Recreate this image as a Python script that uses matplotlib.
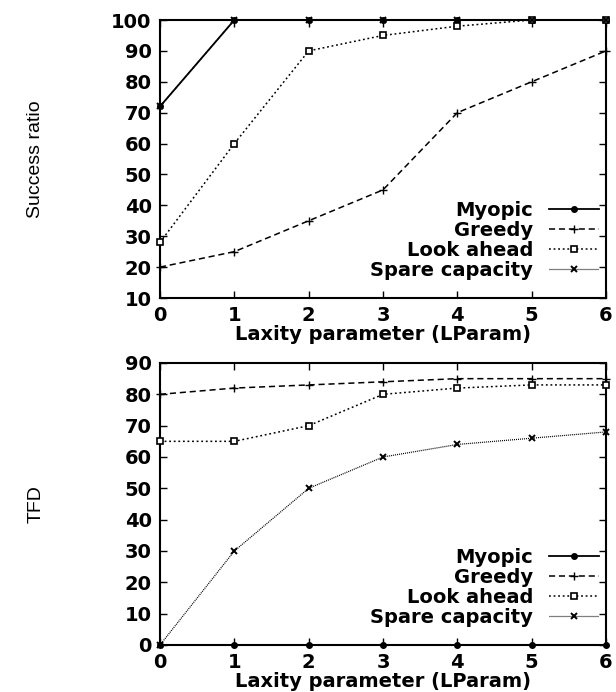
import matplotlib
matplotlib.use("Agg")
import matplotlib.pyplot as plt
from matplotlib import font_manager

x = [0, 1, 2, 3, 4, 5, 6]
series_names = ["Myopic", "Greedy", "Look ahead", "Spare capacity"]

# Top chart: Success ratio
sr_myopic = [72, 100, 100, 100, 100, 100, 100]
sr_greedy = [20, 25, 35, 45, 70, 80, 90]
sr_lookahead = [28, 60, 90, 95, 98, 100, 100]
sr_spare = [72, 100, 100, 100, 100, 100, 100]

# Bottom chart: TFD
tfd_myopic = [0, 0, 0, 0, 0, 0, 0]
tfd_greedy = [80, 82, 83, 84, 85, 85, 85]
tfd_lookahead = [65, 65, 70, 80, 82, 83, 83]
tfd_spare = [0, 30, 50, 60, 64, 66, 68]

sr_yticks = [10, 20, 30, 40, 50, 60, 70, 80, 90, 100]
tfd_yticks = [0, 10, 20, 30, 40, 50, 60, 70, 80, 90]
xlabel = "Laxity parameter (LParam)"

styles = [
    dict(linestyle="-", marker="o", markersize=4, lw=1.3),
    dict(linestyle=(0, (4, 2.5)), marker="+", markersize=6, lw=1.1),
    dict(linestyle=(0, (1.2, 1.8)), marker="s", markersize=5, markerfacecolor="white", markeredgewidth=1.2, lw=1.1),
    dict(linestyle=(0, (0.8, 0.8)), marker="x", markersize=5, markeredgewidth=1.4, lw=0.9),
]

avail = {f.name for f in font_manager.fontManager.ttflist}
narrow = "Liberation Sans Narrow" if "Liberation Sans Narrow" in avail else "Liberation Sans"

FS = 14
L, R = 160, 606
fig = plt.figure(figsize=(6.16, 6.92), dpi=100)
ax1 = fig.add_axes([L/616, 1-298/692, (R-L)/616, 278/692])
ax2 = fig.add_axes([L/616, 1-645/692, (R-L)/616, 282/692])

for ax, data, yt, ylab, ylim in [
    (ax1, [sr_myopic, sr_greedy, sr_lookahead, sr_spare], sr_yticks, "Success ratio", (10, 100)),
    (ax2, [tfd_myopic, tfd_greedy, tfd_lookahead, tfd_spare], tfd_yticks, "TFD", (0, 90)),
]:
    for name, vals, st in zip(series_names, data, styles):
        ax.plot(x, vals, color="black", label=name, clip_on=False, zorder=3, **st)
    ax.set_xlim(0, 6)
    ax.set_ylim(*ylim)
    ax.set_xticks(x)
    ax.set_yticks(yt)
    ax.tick_params(direction="in", length=5, width=1, top=True, right=True,
                   labelsize=FS, pad=6)
    for lab in ax.get_xticklabels() + ax.get_yticklabels():
        lab.set_fontweight("bold")
    for sp in ax.spines.values():
        sp.set_linewidth(1.5)
    ax.set_xlabel(xlabel, fontsize=FS, fontweight="bold", labelpad=0)
    ax.text((36 - L) / (R - L), 0.5, ylab, transform=ax.transAxes, rotation=90,
            ha="center", va="center", fontsize=14, family=narrow)
    leg = ax.legend(loc="lower right", bbox_to_anchor=(0.985, 0.065), frameon=False,
                    markerfirst=False, prop=dict(size=FS, weight="bold"),
                    handlelength=2.6, handletextpad=0.8, labelspacing=0.05,
                    borderaxespad=0, borderpad=0)

fig.savefig("out.png", dpi=100)
